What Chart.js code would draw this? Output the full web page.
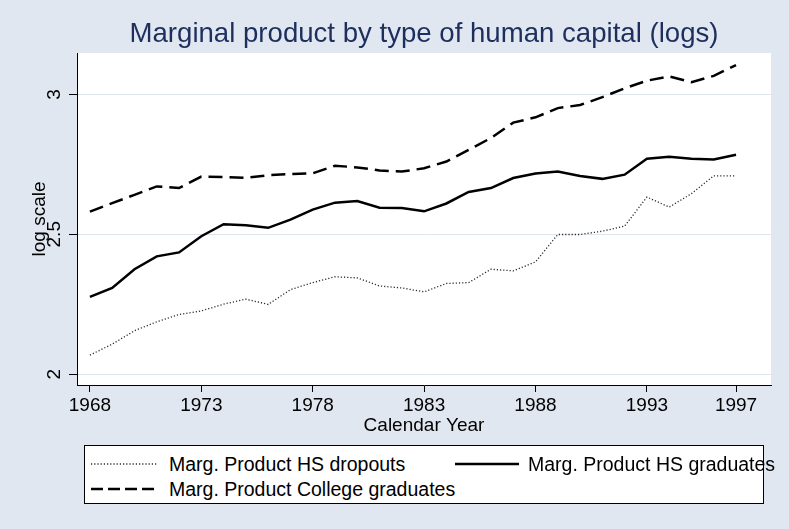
<!DOCTYPE html>
<html>
<head>
<meta charset="utf-8">
<script src="https://cdn.jsdelivr.net/npm/chart.js@4"></script>
<style>
  html, body { margin: 0; padding: 0; background: #ffffff; }
  #wrap { position: relative; width: 789px; height: 529px; background: #e1e7f0; font-family: "Liberation Sans", Arial, sans-serif; }
  #grafica { position: absolute; left: 0; top: 0; }
  #titulo { position: absolute; left: 77px; width: 694px; top: 16px; text-align: center; font-size: 27.6px; line-height: 34px; color: #1e2f5e; }
  #leyenda { position: absolute; left: 84px; top: 445px; width: 680px; height: 59px; box-sizing: border-box; border: 1px solid #000; background: #fff; }
  .item { position: absolute; font-size: 19.5px; line-height: 24px; color: #000; white-space: nowrap; }
  .muestra { position: absolute; }
</style>
</head>
<body>
<div id="wrap">
  <canvas id="grafica" width="789" height="529"></canvas>
  <div id="titulo">Marginal product by type of human capital (logs)</div>
  <div id="leyenda"></div>
</div>
<script>
const anios = [1968, 1969, 1970, 1971, 1972, 1973, 1974, 1975, 1976, 1977,
  1978, 1979, 1980, 1981, 1982, 1983, 1984, 1985, 1986, 1987,
  1988, 1989, 1990, 1991, 1992, 1993, 1994, 1995, 1996, 1997];

const hsDropouts = [2.068, 2.107, 2.155, 2.187, 2.213, 2.226, 2.250, 2.268, 2.249, 2.302,
  2.327, 2.348, 2.344, 2.315, 2.308, 2.294, 2.324, 2.327, 2.375, 2.369,
  2.401, 2.499, 2.499, 2.511, 2.529, 2.633, 2.597, 2.645, 2.709, 2.709];

const hsGraduados = [2.276, 2.308, 2.375, 2.421, 2.435, 2.493, 2.536, 2.532, 2.523, 2.552,
  2.588, 2.613, 2.619, 2.595, 2.594, 2.582, 2.610, 2.651, 2.665, 2.701,
  2.717, 2.724, 2.708, 2.698, 2.713, 2.770, 2.777, 2.770, 2.767, 2.784];

const universitarios = [2.581, 2.611, 2.641, 2.671, 2.665, 2.706, 2.705, 2.702, 2.711, 2.715,
  2.718, 2.745, 2.739, 2.728, 2.724, 2.736, 2.760, 2.802, 2.844, 2.899,
  2.918, 2.951, 2.962, 2.990, 3.022, 3.049, 3.064, 3.044, 3.066, 3.105];

const ticksX = [1968, 1973, 1978, 1983, 1988, 1993, 1997];
const ticksY = [2, 2.5, 3];

const series = [
  { label: "Marg. Product HS dropouts", data: hsDropouts, color: "#2a2a2a", width: 1.3, dash: [1.2, 2] },
  { label: "Marg. Product HS graduates", data: hsGraduados, color: "#000000", width: 2.5, dash: [] },
  { label: "Marg. Product College graduates", data: universitarios, color: "#000000", width: 2.5, dash: [14, 7] }
];

const FUENTE = "'Liberation Sans', Arial, sans-serif";

const fondoBlanco = {
  id: "fondoBlanco",
  beforeDraw(chart) {
    const a = chart.chartArea;
    const ctx = chart.ctx;
    ctx.save();
    ctx.fillStyle = "#ffffff";
    ctx.fillRect(a.left, a.top, a.right - a.left, a.bottom - a.top);
    ctx.restore();
  }
};

new Chart(document.getElementById("grafica"), {
  type: "line",
  data: {
    datasets: series.map(s => ({
      label: s.label,
      data: s.data.map((v, i) => ({ x: anios[i], y: v })),
      borderColor: s.color,
      borderWidth: s.width,
      borderDash: s.dash,
      pointRadius: 0,
      tension: 0,
      fill: false
    }))
  },
  options: {
    responsive: false,
    animation: false,
    devicePixelRatio: 1,
    layout: { padding: { top: 53, right: 18, bottom: 92, left: 0 } },
    plugins: {
      legend: { display: false },
      title: { display: false },
      tooltip: { enabled: false }
    },
    scales: {
      x: {
        type: "linear",
        min: 1967.42,
        max: 1998.57,
        afterBuildTicks: s => { s.ticks = ticksX.map(v => ({ value: v })); },
        afterFit: s => { s.height = 52; },
        grid: { display: true, drawOnChartArea: false, drawTicks: true, tickLength: 7, tickColor: "#000" },
        border: { display: true, color: "#000", width: 1 },
        ticks: { color: "#000", padding: 2, maxRotation: 0, font: { family: FUENTE, size: 19 }, callback: v => String(v) },
        title: { display: true, text: "Calendar Year", color: "#000", padding: { top: 0, bottom: 0 }, font: { family: FUENTE, size: 19, lineHeight: 1.2 } }
      },
      y: {
        type: "linear",
        min: 1.961,
        max: 3.148,
        afterBuildTicks: s => { s.ticks = ticksY.map(v => ({ value: v })); },
        afterFit: s => { s.width = 77; },
        grid: { color: "#dfe5ee", lineWidth: 1, tickLength: 8, tickColor: "#000" },
        border: { display: true, color: "#000", width: 1 },
        ticks: { color: "#000", padding: 1, minRotation: 90, maxRotation: 90, crossAlign: "center", font: { family: FUENTE, size: 19 }, callback: v => String(v) },
        title: { display: true, text: "log scale", color: "#000", padding: { top: 28, bottom: 0 }, font: { family: FUENTE, size: 19, lineHeight: 1.2 } }
      }
    }
  },
  plugins: [fondoBlanco]
});

// leyenda en HTML, con las mismas series
const leyenda = document.getElementById("leyenda");
const posiciones = [
  { mx: 6, tx: 84, cy: 19, w: 66 },
  { mx: 370, tx: 443, cy: 19, w: 64 },
  { mx: 6, tx: 84, cy: 44, w: 64 }
];
series.forEach((s, i) => {
  const p = posiciones[i];
  const svg = document.createElementNS("http://www.w3.org/2000/svg", "svg");
  svg.setAttribute("class", "muestra");
  svg.setAttribute("width", p.w);
  svg.setAttribute("height", 6);
  svg.style.left = p.mx + "px";
  svg.style.top = (p.cy - 3 - 1) + "px";
  const linea = document.createElementNS("http://www.w3.org/2000/svg", "line");
  linea.setAttribute("x1", 0);
  linea.setAttribute("x2", p.w);
  linea.setAttribute("y1", 3);
  linea.setAttribute("y2", 3);
  linea.setAttribute("stroke", s.color);
  linea.setAttribute("stroke-width", s.width);
  const dashLeyenda = i === 2 ? "12 5" : s.dash.join(" ");
  if (dashLeyenda) linea.setAttribute("stroke-dasharray", dashLeyenda);
  svg.appendChild(linea);
  leyenda.appendChild(svg);

  const txt = document.createElement("div");
  txt.className = "item";
  txt.textContent = s.label;
  txt.style.left = p.tx + "px";
  txt.style.top = (p.cy - 12 - 1) + "px";
  leyenda.appendChild(txt);
});
</script>
</body>
</html>
